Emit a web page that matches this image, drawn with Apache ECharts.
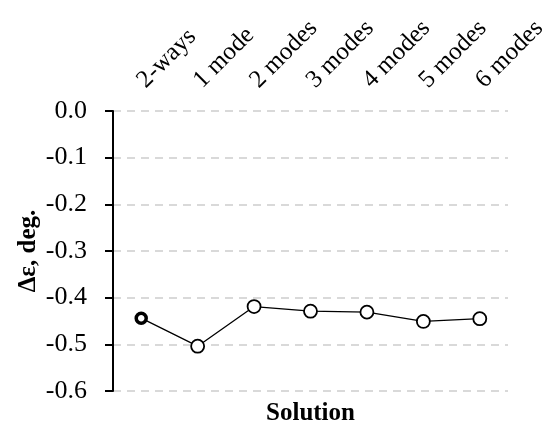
<!DOCTYPE html>
<html style="height: 100%">
<head>
    <meta charset="utf-8">
    <script src="https://cdn.jsdelivr.net/npm/echarts@6/dist/echarts.min.js"></script>
</head>
<body style="height: 100%; margin: 0; background-color: #fff">
    <div id="container" style="width: 555px; height: 426px"></div>
    <script type="text/javascript">
        // solutions along the top axis
        var categories = ['2-ways', '1 mode', '2 modes', '3 modes', '4 modes', '5 modes', '6 modes'];
        // delta epsilon, deg.
        var values = [-0.444, -0.504, -0.419, -0.429, -0.431, -0.451, -0.445];
        var yTicks = [0, -0.1, -0.2, -0.3, -0.4, -0.5, -0.6];

        var serifFont = '"Liberation Serif", "DejaVu Serif", serif';

        var seriesData = values.map(function (v, i) {
            if (i == 0) {
                // the reference solution is drawn with a heavier ring
                return { value: v, symbolSize: 10, itemStyle: { borderWidth: 3.5 } };
            }
            return v;
        });

        var myChart = echarts.init(document.getElementById('container'));
        var option = {
            animation: false,
            grid: { left: 113, right: 47, top: 111, bottom: 35, outerBoundsMode: 'none' },
            xAxis: [{
                type: 'category',
                data: categories,
                position: 'top',
                boundaryGap: true,
                axisLine: { show: false },
                axisTick: { show: false },
                axisLabel: {
                    rotate: 45,
                    margin: 27,
                    fontFamily: serifFont,
                    fontSize: 25,
                    color: '#000'
                }
            }, {
                type: 'category',
                data: categories,
                position: 'bottom',
                axisLine: { show: false },
                axisTick: { show: false },
                axisLabel: { show: false },
                name: 'Solution',
                nameLocation: 'middle',
                nameGap: 10,
                nameTextStyle: {
                    fontFamily: serifFont,
                    fontSize: 25,
                    fontWeight: 'bold',
                    color: '#000'
                }
            }],
            yAxis: {
                type: 'value',
                min: -0.6,
                max: 0,
                interval: 0.1,
                name: 'Δε, deg.',
                nameLocation: 'middle',
                nameRotate: 90,
                nameGap: 72,
                nameMoveOverlap: false,
                nameTextStyle: {
                    fontFamily: serifFont,
                    fontSize: 25,
                    fontWeight: 'bold',
                    color: '#000'
                },
                axisLine: { show: true, lineStyle: { color: '#000', width: 2 } },
                axisTick: { show: true, length: 8, lineStyle: { color: '#000', width: 2 } },
                axisLabel: {
                    margin: 26,
                    fontFamily: serifFont,
                    fontSize: 26,
                    color: '#000',
                    formatter: function (v) { return v.toFixed(1); }
                },
                splitLine: {
                    show: true,
                    lineStyle: { color: '#d9d9d9', width: 2, type: [8, 6] }
                }
            },
            series: [{
                type: 'line',
                data: seriesData,
                symbol: 'circle',
                symbolSize: 13,
                lineStyle: { color: '#000', width: 1.3 },
                itemStyle: { color: '#fff', borderColor: '#000', borderWidth: 1.8 }
            }]
        };
        myChart.setOption(option);
    </script>
</body>
</html>
